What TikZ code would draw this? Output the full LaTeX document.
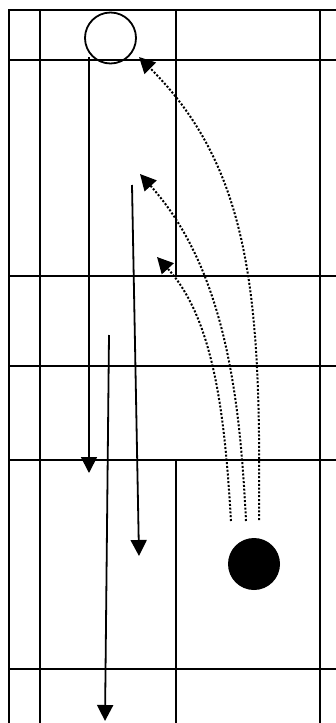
\documentclass[tikz,border=0pt]{standalone}
\usetikzlibrary{arrows.meta}
\begin{document}
\begin{tikzpicture}[x=1pt,y=-1pt,
  gridline/.style={line width=2pt,black},
  flow/.style={line width=1.8pt,-{Triangle[length=16pt,width=16pt]}},
  dotflow/.style={line width=2pt,dash pattern=on 2pt off 1.8pt,-{Triangle[length=16pt,width=16pt]}}]
\useasboundingbox (0,0) rectangle (336,723);
\fill[white] (0,0) rectangle (336,723);
% grid
\draw[gridline] (9,10) -- (336,10);
\draw[gridline] (9,60) -- (336,60);
\draw[gridline] (9,276) -- (336,276);
\draw[gridline] (9,366) -- (336,366);
\draw[gridline] (9,460) -- (336,460);
\draw[gridline] (9,669) -- (336,669);
\draw[gridline] (9,9) -- (9,723);
\draw[gridline] (40,9) -- (40,723);
\draw[gridline] (176,9) -- (176,276);
\draw[gridline] (176,460) -- (176,723);
\draw[gridline] (320,9) -- (320,723);
% circles
\node[draw,circle,line width=1.8pt,minimum size=51pt,inner sep=0pt] (start) at (110.5,38) {};
\node[circle,fill=black,minimum size=52pt,inner sep=0pt] (final) at (254,564) {};
% solid arrows
\coordinate (a1s) at (89,57);
\coordinate (a1e) at (89,473);
\coordinate (a2s) at (132,185);
\coordinate (a2e) at (139,556);
\coordinate (a3s) at (109,335);
\coordinate (a3e) at (105,721);
\draw[flow] (a1s) -- (a1e);
\draw[flow] (a2s) -- (a2e);
\draw[flow] (a3s) -- (a3e);
% dotted curves
\coordinate (d1s) at (259,520);
\coordinate (d1e) at (139,57);
\coordinate (d2s) at (246,521);
\coordinate (d2e) at (140,174);
\coordinate (d3s) at (231,521);
\coordinate (d3e) at (157,257);
\draw[dotflow] (d1s) .. controls (261,300) and (252,170) .. (d1e);
\draw[dotflow] (d2s) .. controls (240,400) and (226,270) .. (d2e);
\draw[dotflow] (d3s) .. controls (225,420) and (215,320) .. (d3e);
\end{tikzpicture}
\end{document}
